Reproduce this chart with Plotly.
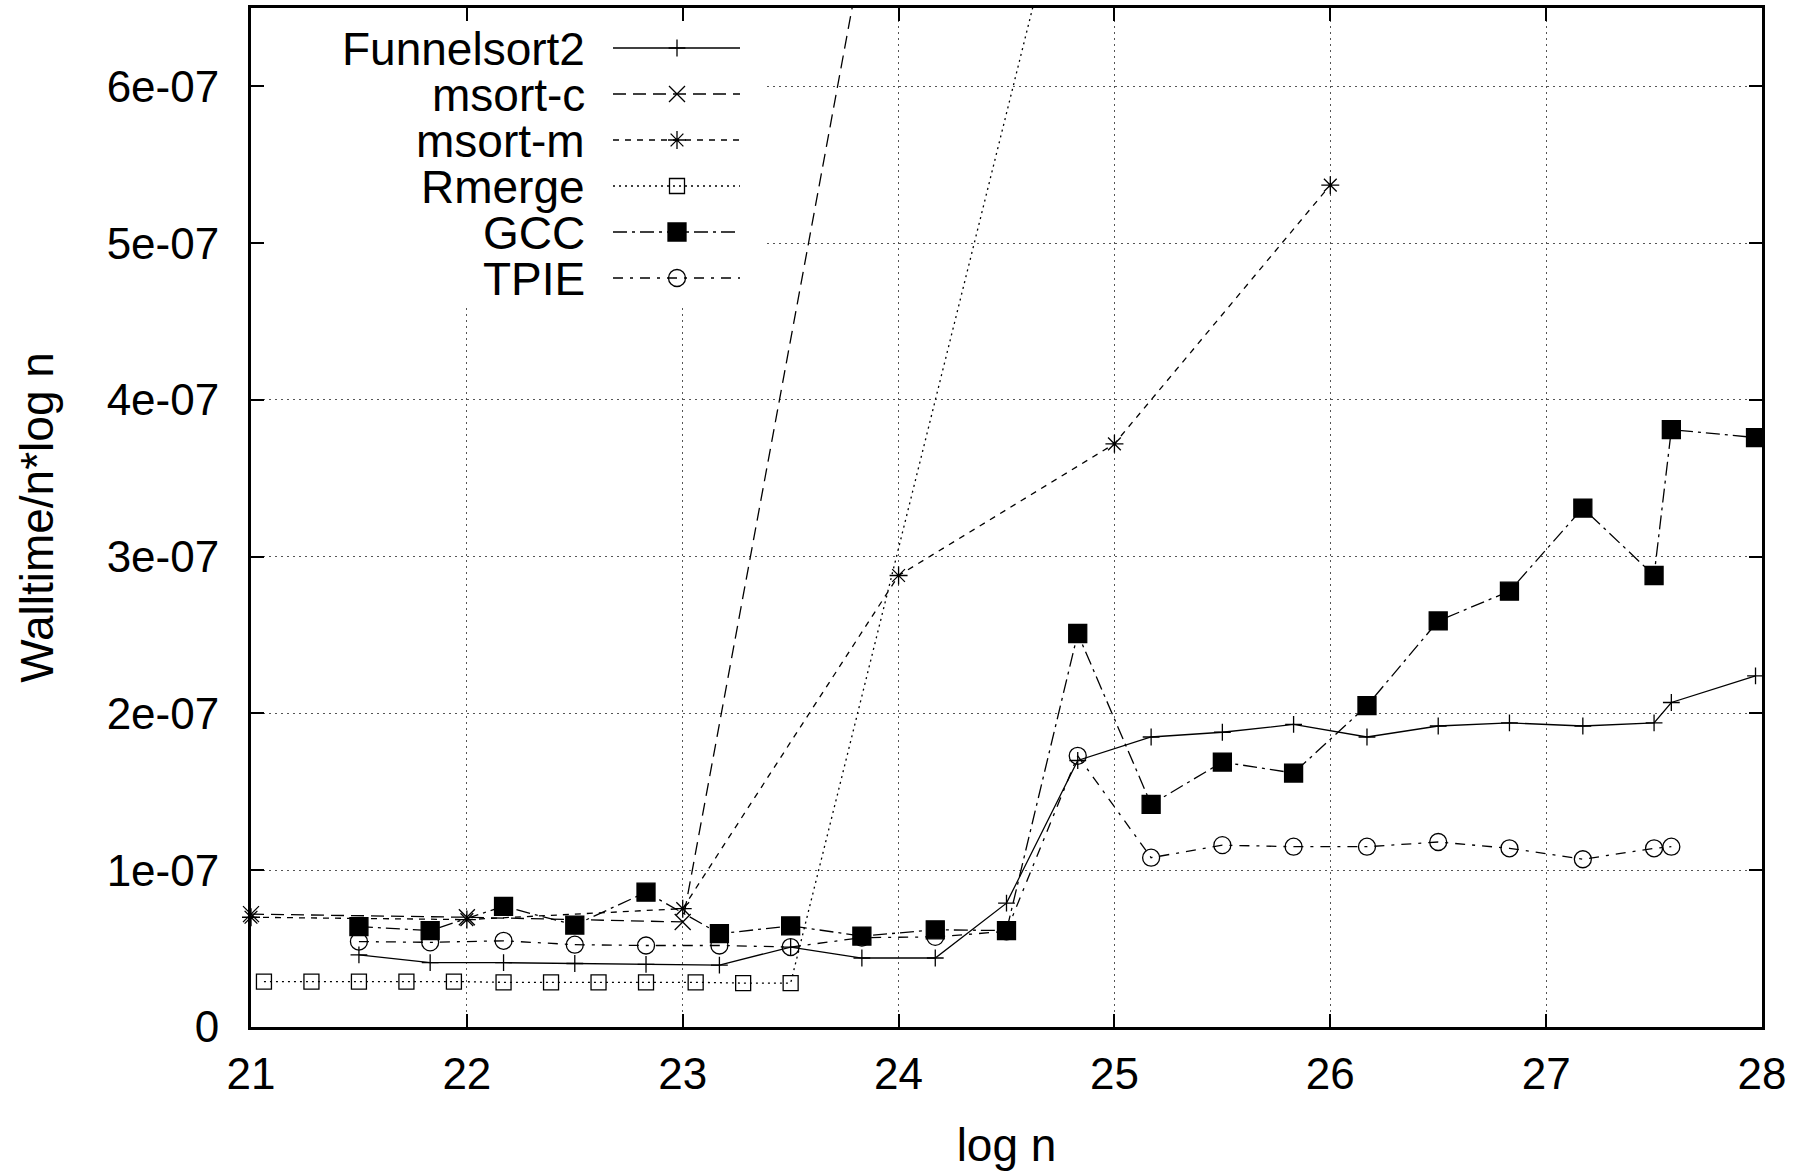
import plotly.graph_objects as go

# ---------------- data ----------------
x_funnel = [21.5, 21.83, 22.17, 22.5, 22.83, 23.17, 23.5, 23.83, 24.17, 24.5, 24.83,
            25.17, 25.5, 25.83, 26.17, 26.5, 26.83, 27.17, 27.5, 27.58, 27.97]
funnelsort2 = [4.6e-08, 4.1e-08, 4.1e-08, 4.05e-08, 4.0e-08, 3.95e-08, 5.1e-08, 4.4e-08,
               4.4e-08, 7.9e-08, 1.70e-07, 1.85e-07, 1.88e-07, 1.93e-07, 1.85e-07,
               1.92e-07, 1.94e-07, 1.92e-07, 1.94e-07, 2.07e-07, 2.24e-07]

x_msort_c = [21, 22, 23, 24]
msort_c = [7.2e-08, 7.0e-08, 6.7e-08, 8.1e-07]

x_msort_m = [21, 22, 23, 24, 25, 26]
msort_m = [7.0e-08, 6.85e-08, 7.55e-08, 2.88e-07, 3.72e-07, 5.37e-07]

x_rmerge = [21.06, 21.28, 21.5, 21.72, 21.94, 22.17, 22.39, 22.61, 22.83, 23.06,
            23.28, 23.5, 24.83]
rmerge = [2.9e-08, 2.9e-08, 2.9e-08, 2.9e-08, 2.9e-08, 2.85e-08, 2.85e-08, 2.85e-08,
          2.85e-08, 2.85e-08, 2.8e-08, 2.8e-08, 7.66e-07]

x_gcc = [21.5, 21.83, 22.17, 22.5, 22.83, 23.17, 23.5, 23.83, 24.17, 24.5, 24.83,
         25.17, 25.5, 25.83, 26.17, 26.5, 26.83, 27.17, 27.5, 27.58, 27.97]
gcc = [6.4e-08, 6.15e-08, 7.7e-08, 6.5e-08, 8.6e-08, 5.95e-08, 6.45e-08, 5.8e-08,
       6.2e-08, 6.15e-08, 2.51e-07, 1.42e-07, 1.69e-07, 1.62e-07, 2.05e-07, 2.59e-07,
       2.78e-07, 3.31e-07, 2.88e-07, 3.81e-07, 3.76e-07]

x_tpie = [21.5, 21.83, 22.17, 22.5, 22.83, 23.17, 23.5, 23.83, 24.17, 24.5, 24.83,
          25.17, 25.5, 25.83, 26.17, 26.5, 26.83, 27.17, 27.5, 27.58]
tpie = [5.45e-08, 5.4e-08, 5.5e-08, 5.25e-08, 5.2e-08, 5.2e-08, 5.1e-08, 5.7e-08,
        5.75e-08, 6.1e-08, 1.73e-07, 1.08e-07, 1.16e-07, 1.15e-07, 1.15e-07, 1.18e-07,
        1.14e-07, 1.07e-07, 1.14e-07, 1.15e-07]

x_ticks = [21, 22, 23, 24, 25, 26, 27, 28]
y_ticks = [0, 1e-07, 2e-07, 3e-07, 4e-07, 5e-07, 6e-07]
y_tick_text = ["0", "1e-07", "2e-07", "3e-07", "4e-07", "5e-07", "6e-07"]

# ---------------- styles ----------------
FONT = "Liberation Sans, Arial, Helvetica, sans-serif"
W, H = 1808, 1171
L, R, T, B = 251, 1762, 8, 1027  # plot area in pixels

series = [
    dict(name="Funnelsort2", x=x_funnel, y=funnelsort2, dash="solid",
         symbol="cross-thin-open", size=12, clip=True),
    dict(name="msort-c", x=x_msort_c, y=msort_c, dash="13px,7px",
         symbol="x-thin-open", size=16, clip=False),
    dict(name="msort-m", x=x_msort_m, y=msort_m, dash="6px,6px",
         symbol="asterisk-open", size=15, clip=False),
    dict(name="Rmerge", x=x_rmerge, y=rmerge, dash="2px,4px",
         symbol="square-open", size=15, clip=True),
    dict(name="GCC", x=x_gcc, y=gcc, dash="14px,5px,3px,5px",
         symbol="square", size=18, clip=True),
    dict(name="TPIE", x=x_tpie, y=tpie, dash="10px,7px,3px,7px",
         symbol="circle-open", size=17, clip=True),
]

fig = go.Figure()

for s in series:
    fig.add_trace(go.Scatter(
        x=s["x"], y=s["y"], name=s["name"], mode="lines+markers",
        line=dict(color="black", width=1.3, dash=s["dash"]),
        marker=dict(symbol=s["symbol"], size=s["size"], color="black",
                    line=dict(color="black", width=1.3)),
        cliponaxis=s["clip"], showlegend=False,
    ))

# ---------------- manual gnuplot-style key (text left, sample right) ----------------
key_text_x = 587
key_line_x0, key_line_x1, key_mark_x = 613, 740, 677
key_y0, key_dy = 48.0, 46.0
for i, s in enumerate(series):
    yk = key_y0 + i * key_dy
    fig.add_trace(go.Scatter(
        x=[key_line_x0, key_line_x1], y=[yk, yk], mode="lines",
        line=dict(color="black", width=1.3, dash=s["dash"]),
        xaxis="x2", yaxis="y2", showlegend=False, hoverinfo="skip"))
    fig.add_trace(go.Scatter(
        x=[key_mark_x], y=[yk], mode="markers",
        marker=dict(symbol=s["symbol"], size=s["size"], color="black",
                    line=dict(color="black", width=1.3)),
        xaxis="x2", yaxis="y2", showlegend=False, hoverinfo="skip"))
    fig.add_annotation(x=key_text_x, y=yk + 1.0, xref="x2", yref="y2", text=s["name"],
                       showarrow=False, xanchor="right", yanchor="middle",
                       font=dict(family=FONT, size=46, color="black"))

# white box behind key hides grid lines (drawn between grid and traces)
fig.add_shape(type="rect", xref="x", yref="y", x0=21, x1=23.39, y0=4.61e-07, y1=6.5e-07,
              fillcolor="white", line=dict(width=0), layer="between")

axis_common = dict(
    showline=True, linecolor="black", linewidth=3, mirror="ticks",
    ticks="inside", ticklen=13, tickwidth=2, tickcolor="black",
    showgrid=True, gridcolor="#555", gridwidth=1, griddash="2px,4px",
    zeroline=False, automargin=False,
    tickfont=dict(family=FONT, size=44, color="black"),
    title_font=dict(family=FONT, size=46, color="black"),
)

fig.update_layout(
    width=W, height=H,
    margin=dict(l=L, r=W - R, t=T, b=H - B, pad=0, autoexpand=False),
    paper_bgcolor="white", plot_bgcolor="white",
    font=dict(family=FONT, size=44, color="black"),
    xaxis=dict(range=[21, 28], tickvals=x_ticks, ticktext=[str(v) for v in x_ticks],
               ticklabelstandoff=6,
               title=dict(text="log n", standoff=40), **axis_common),
    yaxis=dict(range=[0, 6.5e-07], tickvals=y_ticks, ticktext=y_tick_text,
               ticklabelstandoff=20,
               title=dict(text="Walltime/n*log n", standoff=39), **axis_common),
    xaxis2=dict(overlaying="x", anchor="y2", range=[L, R], visible=False,
                showgrid=False, zeroline=False, automargin=False),
    yaxis2=dict(overlaying="y", anchor="x2", range=[B, T], visible=False,
                showgrid=False, zeroline=False, automargin=False),
)

fig.write_html("out.html")
